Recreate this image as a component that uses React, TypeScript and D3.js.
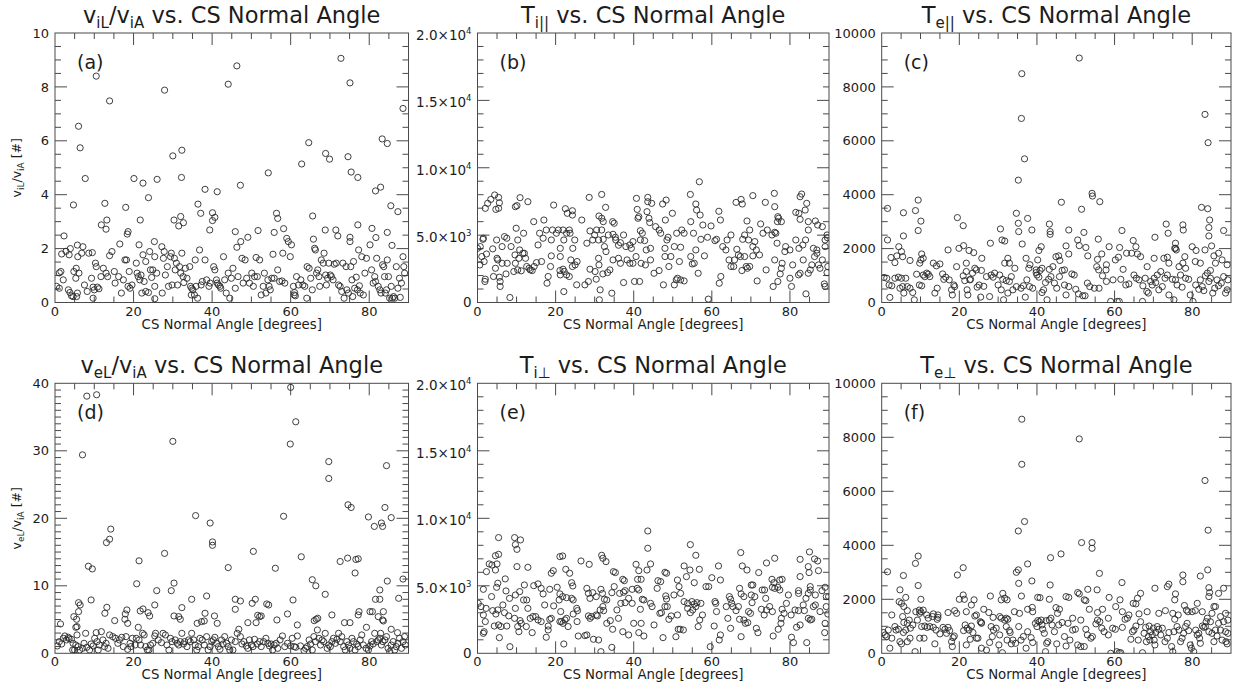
import React from 'react';
import * as d3 from 'd3';

type Pt = [number, number];

// x axis (CS normal angle, degrees)
const angleDomain: [number, number] = [0, 90];
const angleMajorTicks = [0, 20, 40, 60, 80];
const angleMinorStep = 5;

// (a) v_iL / v_iA
const viLRatio: Pt[] = [
[10.5,8.4],[13.9,7.48],[27.9,7.88],[44.1,8.1],[46.3,8.78],[72.8,9.06],[75.1,8.15],[88.6,7.2],[6.0,6.54],[6.4,5.74],[7.7,4.6],[4.7,3.62],[2.3,2.47],[30.0,5.44],[32.3,5.65],[32.2,4.64],[20.1,4.6],[22.4,4.43],[26.0,4.57],[23.8,3.89],[12.7,3.68],[18.0,3.53],[11.8,2.88],[13.2,3.06],[13.0,2.72],[18.6,2.63],[18.4,2.54],[21.7,3.06],[30.3,3.06],[32.0,3.19],[32.7,2.96],[31.5,2.84],[38.2,4.2],[41.3,4.11],[36.4,3.65],[37.1,3.31],[40.1,3.33],[40.7,3.16],[40.1,3.04],[39.4,2.69],[47.2,4.35],[54.3,4.81],[56.4,3.31],[56.7,3.12],[45.9,2.63],[51.7,2.67],[55.8,2.6],[58.2,2.74],[62.8,5.14],[64.6,5.93],[65.6,3.21],[68.9,5.53],[69.9,5.32],[68.8,2.69],[71.5,2.69],[72.0,2.47],[74.6,5.41],[75.4,4.84],[77.1,4.64],[77.1,2.88],[75.1,2.42],[80.7,2.75],[81.6,4.14],[82.9,4.28],[83.3,6.07],[84.6,5.9],[85.5,3.59],[87.3,3.37],[84.6,2.6],[81.7,2.41],[85.8,2.12],
[0.4,0.6],[1.1,1.1],[1.5,1.15],[1.7,1.8],[1.1,0.53],[2.1,0.84],[2.8,1.9],[3.6,1.77],[3.9,2.0],[3.4,0.47],[3.8,0.37],[4.2,0.25],[4.6,0.22],[4.8,1.15],[5.3,0.9],[5.4,1.27],[5.7,2.13],[5.8,1.7],[5.5,0.22],[5.7,0.35],[6.1,1.09],[6.8,1.83],[7.1,2.07],[7.5,0.65],[8.2,0.41],[8.6,1.83],[9.3,0.9],[9.5,1.85],[9.7,0.16],[10.0,0.47],[9.7,0.57],
[10.3,1.46],[10.5,1.33],[10.8,0.57],[11.2,0.51],[11.7,0.96],[12.3,1.27],[13.0,1.09],[13.4,0.96],[13.9,1.74],[14.5,1.89],[15.1,1.15],[15.3,0.72],[16.2,0.96],[16.5,2.17],[16.9,0.35],[17.4,0.84],[17.8,1.58],[18.2,1.58],[18.6,0.6],[18.9,1.15],[19.1,0.53],[19.6,0.65],
[20.7,1.46],[20.9,1.09],[21.2,0.96],[21.4,2.14],[21.6,0.84],[21.9,1.02],[22.1,0.35],[22.4,1.77],[22.7,0.78],[23.1,1.52],[23.1,0.41],[23.8,0.37],[24.1,1.89],[24.3,1.21],[24.6,0.93],[24.9,1.21],[25.3,2.26],[25.4,1.7],[25.4,0.6],[25.4,0.14],[25.9,1.09],[27.2,2.07],[27.3,0.35],[27.6,1.64],[27.8,1.89],[28.1,1.02],[28.6,1.33],[28.9,0.6],[29.4,1.7],[29.6,1.83],[29.8,0.65],
[30.4,1.64],[30.6,1.21],[30.9,1.46],[31.2,0.65],[31.7,1.33],[32.0,1.09],[32.3,1.83],[32.6,0.96],[32.8,0.74],[33.2,1.27],[33.6,0.9],[34.3,1.33],[34.5,0.6],[34.7,0.28],[34.8,0.53],[35.1,0.47],[35.5,0.28],[35.7,1.58],[35.9,0.6],[36.3,0.16],[36.8,1.95],[37.2,0.65],[37.5,0.78],[38.2,1.58],[38.6,0.84],[39.2,0.6],[39.5,0.72],
[40.4,1.33],[40.7,1.21],[41.1,0.84],[41.3,0.72],[41.6,0.65],[42.0,0.6],[42.2,0.53],[42.9,1.7],[43.2,0.84],[43.6,0.35],[44.1,1.09],[44.5,0.16],[44.9,0.9],[45.3,1.27],[45.9,0.53],[46.3,2.05],[46.6,0.96],[47.3,2.26],[47.6,1.64],[47.9,0.72],[48.4,1.58],[48.8,0.9],[49.1,2.42],[49.5,0.72],
[50.1,1.09],[50.5,0.6],[50.8,0.96],[51.2,1.67],[51.5,0.96],[52.1,1.58],[52.5,0.28],[53.0,0.6],[53.3,1.09],[53.7,0.35],[54.2,0.84],[54.5,0.6],[54.8,0.47],[55.2,0.9],[55.5,1.79],[55.8,0.9],[56.7,1.21],[57.2,0.78],[57.8,0.8],[58.0,1.83],[58.5,0.72],[59.0,2.38],[59.4,2.26],
[59.9,1.7],[60.2,2.14],[60.7,0.6],[60.9,0.28],[61.0,0.37],[61.2,0.25],[61.5,0.96],[62.0,0.65],[62.6,0.84],[63.1,0.65],[63.6,0.6],[64.1,0.16],[64.2,1.33],[64.7,1.27],[65.1,0.9],[65.5,0.47],[65.8,2.35],[66.1,2.01],[66.3,1.95],[66.6,1.09],[66.9,1.21],[67.2,0.96],[67.4,0.6],[67.8,1.58],[68.3,1.46],[68.5,1.83],[68.9,1.02],[69.1,0.65],[69.4,0.9],[69.7,1.46],
[70.1,1.02],[70.4,0.96],[70.8,0.84],[71.1,1.42],[71.6,1.46],[72.2,0.65],[72.6,0.6],[73.0,0.41],[73.3,1.46],[73.6,0.16],[74.1,1.33],[74.3,0.47],[74.7,0.35],[75.1,2.26],[75.3,1.33],[75.6,0.84],[75.8,0.22],[76.0,1.52],[76.3,0.53],[76.7,0.94],[77.0,0.47],[77.3,1.95],[77.5,0.62],[77.7,0.35],[78.1,1.7],[78.5,0.28],[78.9,1.09],[79.3,1.64],
[80.2,2.14],[80.6,1.21],[81.0,0.72],[81.4,0.96],[81.6,0.78],[81.9,1.64],[82.3,0.6],[82.7,0.47],[83.0,0.35],[83.4,1.4],[83.7,1.33],[83.9,0.96],[84.1,0.35],[84.4,0.47],[84.6,1.58],[84.9,0.96],[85.2,0.16],[85.6,0.6],[85.9,0.16],[86.2,0.22],[86.5,0.16],[86.9,1.33],[87.3,0.53],[87.7,0.9],[87.9,0.19],[88.2,0.72],[88.6,1.7],[88.8,1.33],[89.0,1.09]
];

// (b) T_i parallel
const tiPar: Pt[] = [
[56.8,8960],[76.0,8100],[83.0,8050],[82.6,7850],[54.5,8020],[70.5,7930],[31.8,8020],[28.6,7800],[43.6,7800],[40.7,7730],[4.4,7980],[5.4,7800],[3.4,7650],[10.9,7780],[5.6,7400],[2.6,7360],[2.0,6990],[5.4,6990],[4.7,6910],[9.7,7110],[10.1,7190],[12.9,7480],[19.5,7230],[22.5,6960],[23.0,6620],[24.3,6810],[24.3,6490],[32.8,7060],[31.1,6420],[31.8,6250],[32.2,6000],[34.6,6000],[35.0,5880],[40.9,6910],[41.1,6250],[41.3,6370],[43.6,7480],[43.4,6740],[43.9,6250],[44.1,5930],[44.6,7360],[47.4,7310],[48.3,7600],[48.1,6120],[49.9,6620],[55.9,7310],[56.1,6860],[57.0,6490],[57.7,5750],[59.8,5680],[61.8,6770],[62.2,6120],[66.2,7430],[67.5,7650],[67.8,7310],[69.0,6050],[73.7,7430],[76.1,7110],[76.9,6370],[77.1,6250],[76.8,6000],[77.8,6000],[76.1,5210],[81.5,6690],[82.3,6620],[82.6,6170],[83.9,6860],[84.3,7360],[84.7,6000],[86.5,6050],[87.1,5750],[88.3,5630],[89.5,5010],
[1.4,4690],[1.5,4770],[0,4020],[0.7,4150],[1.1,3410],[1.7,3040],[2.3,3600],[3.9,3980],[4.9,4640],[5.2,3160],[6.9,4890],[7.5,4770],[6.3,4150],[8.6,4150],[9.6,3530],[9.9,5510],[10.3,4640],[10.8,3900],[11.8,5140],[12.0,3650],[14.4,6000],[15.5,4270],[15.9,5140],[16.8,4770],[17.0,6120],[17.6,5380],[18.9,4640],[19.2,5380],[20.2,5140],[20.7,5380],[21.2,4020],[21.2,3410],[21.9,5380],[22.1,4640],[22.8,5140],[23.5,5380],[23.7,5140],[24.4,4020],[24.9,4640],[26.7,6120],[28.0,4400],[28.8,5310],[29.5,4640],[30.0,5010],[30.5,5380],[31.0,4640],[31.8,5380],[32.2,4690],[32.5,4150],[32.9,3780],[33.5,5010],[34.7,5060],[35.3,4840],[35.4,4640],[36.1,4250],[36.6,4440],[37.4,5010],[38.0,4150],[39.0,4270],[39.4,4020],[39.8,4520],[41.7,4640],[42.2,5140],[41.7,5330],[42.8,4590],[43.2,3900],[44.3,4020],[45.6,5630],[46.5,5380],[46.9,5140],[48.0,4020],[48.5,4640],[48.8,4840],[50.4,4150],[51.0,5140],[52.0,4100],[52.3,5380],[52.9,5140],[54.6,6000],[55.3,5140],[55.9,3900],[57.2,4690],[58.9,4840],[60.8,4590],[61.2,4690],[62.8,4150],[63.9,4640],[64.9,5010],[66.4,3950],[67.9,4690],[68.4,5010],[69.4,4640],[69.7,5380],[70.5,4150],[71.0,4520],[71.4,3900],[72.5,5830],[73.1,5140],[74.2,5380],[75.4,5010],[76.4,5140],[76.7,4400],[78.9,4150],[80.0,3900],[81.5,4640],[82.3,4020],[83.3,4270],[84.0,4640],[84.7,5380],[86.0,4020],[86.9,3900],[89.0,4150],[89.6,4810],[89.0,4640],
[0.6,2790],[1.9,1560],[2.0,1730],[4.1,1930],[4.6,2540],[5.0,3280],[5.6,1880],[5.8,1190],[5.8,1560],[6.3,2910],[7.3,2120],[7.6,2910],[8.3,370],[9.3,2300],[9.7,2910],[10.3,2420],[10.6,3280],[11.2,2350],[11.6,3650],[12.3,3280],[12.6,2670],[13.2,2540],[13.5,2420],[14.0,2370],[14.5,2670],[15.1,2960],[16.4,3040],[17.8,1430],[18.1,1930],[18.7,2670],[18.9,3460],[21.1,2370],[21.2,2050],[21.9,2470],[22.2,2300],[22.1,810],[22.8,2050],[23.5,1930],[23.9,3160],[24.3,2670],[25.0,2790],[25.4,1310],[25.5,3040],[27.5,1310],[28.4,1560],[28.8,2470],[30.1,2300],[30.4,1730],[31.0,3280],[31.1,2790],[31.2,200],[31.4,940],[32.1,2120],[33.3,2220],[33.9,2420],[34.4,690],[34.7,3160],[36.1,3280],[36.6,2910],[37.4,1480],[38.3,3160],[39.0,2910],[39.8,2910],[40.2,1560],[40.6,3410],[41.5,1560],[41.9,2910],[43.0,2790],[44.3,3160],[45.2,2170],[46.5,2370],[47.6,1310],[48.0,3410],[49.0,2670],[49.5,3410],[50.4,1310],[50.9,1680],[51.2,1800],[51.7,3040],[52.0,1680],[52.9,1600],[54.6,3410],[55.0,2860],[55.5,2910],[56.5,2170],[58.1,3460],[59.1,250],[61.9,1430],[62.3,1930],[63.6,3900],[64.4,3160],[64.9,2670],[65.6,2670],[65.8,3160],[66.8,3530],[67.3,3410],[67.7,2370],[68.4,3410],[68.8,2670],[69.1,2540],[69.7,2670],[70.5,3460],[71.6,1600],[72.2,3530],[73.9,2420],[75.7,1190],[76.1,3160],[76.9,1560],[77.5,2120],[77.8,2540],[78.0,2910],[78.7,3780],[80.0,1800],[80.4,1190],[80.7,2790],[82.2,2050],[82.6,2170],[83.4,3160],[84.1,640],[84.7,2170],[85.2,2420],[85.6,2790],[86.3,3410],[86.9,3650],[87.3,2790],[87.7,2540],[88.3,3160],[88.8,1380],[89.0,1190],[89.5,2220],[89.7,2670]
];

// (c) T_e parallel
const tePar: Pt[] = [
[50.9,9070],[36.1,8490],[36.0,6830],[36.8,5330],[35.2,4540],[83.3,6980],[84.1,5930],[82.4,3530],[84.0,3480],[84.5,3060],[84.3,2780],[84.3,2470],[54.2,4050],[54.3,3950],[56.2,3740],[46.3,3720],[51.5,3460],[1.5,3490],[5.6,3330],[8.7,3410],[9.4,3800],[9.4,2670],[10.1,3020],[19.5,3150],[21.0,2850],[34.7,3310],[35.2,2940],[35.3,2630],[37.6,3120],[38.7,2690],[36.2,2170],[30.6,2730],[31.0,2320],[31.7,2280],[43.2,2910],[43.4,2630],[43.4,2530],[48.2,2690],[50.5,2320],[52.1,2600],[50.9,2110],[52.6,2040],[55.8,2350],[53.1,1730],[56.7,1800],[58.6,2070],[61.9,2670],[61.3,2040],[64.8,2300],[65.5,2070],[65.9,1800],[70.4,2420],[73.3,2910],[73.8,2570],[72.7,1640],[75.7,2200],[75.5,2010],[75.9,1950],[77.6,2880],[77.7,2690],[80.0,2070],[81.0,1930],[83.3,1950],[85.0,2100],[86.8,1830],[88.1,2670],[85.6,1730],[28.0,2200],[25.8,1640],[23.7,1850],[22.5,1930],[21.1,2110],[19.9,2010],[1.5,2320],[5.6,2470],[4.4,2070],[5.1,1890],[5.4,1700],[2.4,1670],[3.4,1480],[3.9,1730],[7.3,1560],[10.3,1800],[10.1,1580],[10.7,1640],[17.1,1950],[19.3,1330],[21.8,1460],[15.0,1430],[13.3,1460],[14.1,1360],[9.8,1460],[32.9,1460],[31.7,1460],[32.5,1640],[41.1,2070],[40.5,1930],[40.2,1580],[37.2,1640],[44.9,1700],[45.6,1730],[47.5,2100],[48.2,1800],[44.1,1330],[45.9,1560],[47.1,1210],[43.2,1230],[41.3,1270],[39.8,1210],[37.9,1270],[38.2,1400],[34.3,1270],[66.7,1700],[68.4,1330],[70.2,1640],[73.6,1680],[74.0,1460],[75.7,2010],[76.6,1330],[78.1,1700],[77.6,1460],[78.3,1270],[80.8,1520],[82.1,1460],[84.7,1190],[86.0,1460],[87.7,1580],[89.0,1400],[61.0,1680],[60.2,1580],[57.9,1400],[55.6,1600],[55.4,1330],[55.9,1210],[63.1,1830],[64.4,1830],[57.8,1210],
[0.6,930],[1.3,900],[1.9,650],[2.1,190],[2.6,620],[3.4,900],[4.3,940],[4.7,530],[5.1,900],[5.4,590],[5.7,350],[6.2,900],[6.6,590],[7.3,530],[8.0,370],[8.4,100],[9.0,1050],[9.7,650],[10.3,620],[10.7,1020],[11.1,960],[11.6,1090],[12.0,1050],[12.4,960],[13.7,350],[14.3,530],[15.7,1060],[16.0,860],[16.5,940],[17.4,840],[18.0,470],[18.2,280],[18.6,650],[18.8,590],[21.0,990],[21.4,810],[21.8,1150],[22.0,470],[22.2,280],[22.7,840],[22.9,860],[23.4,1090],[24.0,1270],[24.4,1210],[24.6,570],[25.1,650],[25.5,200],[25.7,1190],[26.3,600],[27.0,960],[27.8,220],[28.2,1020],[28.7,940],[29.1,1090],[30.0,650],[30.4,1020],[30.8,470],[31.2,860],[31.4,100],[32.1,810],[32.5,350],[32.9,780],[33.4,960],[33.8,470],[34.7,590],[35.9,530],[36.5,620],[37.0,200],[37.4,840],[38.1,590],[38.9,530],[39.8,1110],[40.0,1020],[40.5,940],[40.8,1190],[41.3,370],[41.7,470],[42.2,740],[42.6,100],[43.0,860],[43.6,960],[44.5,720],[45.1,530],[45.8,960],[46.5,1190],[47.1,650],[47.5,280],[48.2,590],[49.0,1060],[49.6,1020],[50.0,490],[50.7,320],[51.8,250],[52.4,250],[53.0,720],[53.6,590],[54.8,530],[56.0,530],[56.9,990],[57.9,780],[59.0,40],[59.6,840],[60.7,40],[61.2,40],[61.6,860],[62.2,1230],[62.9,650],[63.7,690],[65.0,1020],[65.6,900],[66.3,840],[67.2,40],[67.3,620],[67.9,900],[68.3,410],[68.7,350],[69.3,780],[69.7,650],[70.2,900],[70.6,740],[71.0,1020],[71.4,470],[71.9,1150],[72.3,590],[73.0,900],[73.6,1020],[74.0,280],[74.9,860],[75.3,100],[75.7,840],[76.1,650],[77.0,1020],[77.4,570],[78.3,900],[79.1,860],[79.5,280],[80.2,40],[80.9,650],[81.7,490],[82.1,840],[82.6,590],[83.0,440],[83.4,990],[83.9,1090],[84.3,780],[84.7,900],[85.3,350],[85.8,530],[86.4,840],[86.8,620],[87.5,720],[88.1,960],[88.6,350],[89.0,470],[89.2,840]
];

// (d) v_eL / v_iA
const veLRatio: Pt[] = [
[8.1,38.1],[10.6,38.3],[60.0,39.4],[61.3,34.3],[59.9,31.0],[30.0,31.4],[7.0,29.4],[69.7,28.4],[69.7,25.9],[84.4,27.8],[74.6,22.0],[75.4,21.6],[84.0,21.6],[85.6,20.1],[79.8,20.2],[81.3,18.8],[83.1,19.3],[83.4,18.8],[58.2,20.3],[35.8,20.4],[39.5,19.3],[40.1,16.5],[40.1,16.0],[14.2,18.4],[13.9,16.9],[13.1,16.4],[50.5,15.1],[27.9,14.8],[72.6,13.6],[74.5,14.1],[76.6,13.9],[77.2,14.0],[76.4,11.9],[62.7,14.3],[56.1,12.6],[44.1,12.7],[21.4,13.7],[8.5,12.9],[9.5,12.5],[20.8,10.3],[30.3,10.4],[65.5,10.9],[66.4,10.0],[68.8,8.74],[84.6,10.7],[88.6,11.0],[25.9,9.28],[29.6,9.28],[9.2,7.9],[34.8,8.0],[38.6,8.49],[45.9,8.0],[47.2,7.75],[51.0,8.0],[50.2,7.41],[53.9,7.31],[54.4,7.16],[60.6,7.9],[81.6,8.0],[82.7,8.0],[82.7,9.38],[87.5,8.15],[77.4,6.17],[77.2,5.68],[80.2,6.17],[80.8,6.17],[83.6,6.17],[6.0,7.5],[6.4,7.16],[6.0,6.17],[4.8,5.43],[5.5,5.04],[5.6,3.95],[5.3,3.85],[1.4,4.35],[13.2,6.81],[12.7,5.93],[18.3,6.42],[17.9,5.83],[17.8,5.04],[18.5,4.44],[22.4,6.57],[21.7,6.27],[23.7,6.02],[24.1,5.53],[25.4,7.16],[15.2,4.84],[30.3,5.53],[31.5,5.43],[32.3,6.77],[31.9,5.04],[36.2,4.44],[37.3,4.69],[38.0,4.79],[38.2,5.93],[40.6,5.53],[41.3,4.44],[45.9,6.52],[49.1,4.54],[51.2,4.54],[51.6,5.63],[52.1,5.43],[52.5,5.53],[56.5,4.94],[59.2,5.83],[61.7,4.2],[66.0,4.84],[66.5,5.04],[66.9,5.19],[70.5,5.68],[73.7,4.54],[75.1,4.54],[82.3,5.43],[83.4,4.94],[83.6,4.79],[79.3,3.85],[82.9,2.96],[85.6,3.56],[87.2,3.06],
[0.6,1.09],[1.1,1.73],[1.7,1.38],[2.1,2.22],[2.5,2.57],[2.9,1.98],[3.4,2.37],[3.6,2.17],[4.2,2.07],[4.5,0.49],[4.6,1.48],[5.0,0.49],[5.3,1.23],[5.6,2.72],[5.9,0.99],[6.3,0.49],[7.0,0.74],[7.4,1.48],[7.8,2.96],[8.1,0.89],[8.8,0.49],[9.2,1.38],[9.7,1.09],[10.1,2.22],[10.5,3.06],[10.7,1.73],[11.0,0.49],[11.3,1.23],[11.8,3.21],[12.2,1.98],[12.6,0.99],[13.0,1.48],[13.5,0.74],[13.9,2.72],[14.7,2.47],[15.4,2.22],[16.0,1.48],[16.4,1.98],[17.0,2.37],[17.4,0.99],[18.1,2.47],[18.5,0.59],[19.1,1.48],[19.3,0.99],[19.7,2.22],[20.4,1.23],[20.7,2.22],[21.2,3.85],[21.4,1.98],[21.8,1.23],[22.3,2.96],[22.7,2.72],[23.1,0.99],[23.5,0.49],[23.9,0.49],[24.3,1.23],[24.9,1.48],[25.4,2.57],[25.6,2.96],[26.3,1.98],[27.1,1.58],[27.5,2.96],[28.1,2.72],[28.5,1.23],[29.0,0.49],[29.4,2.22],[29.8,1.73],[30.6,1.98],[31.1,1.48],[31.5,1.23],[31.9,1.73],[32.3,2.96],[32.7,1.38],[33.0,1.73],[33.6,0.99],[34.0,1.98],[34.4,1.73],[34.8,2.96],[35.3,1.98],[35.7,1.23],[36.1,0.49],[36.5,0.99],[36.9,2.22],[37.5,1.98],[38.0,1.23],[38.6,2.47],[39.0,0.49],[39.5,0.99],[39.9,1.73],[40.3,1.98],[40.7,2.37],[41.1,1.48],[41.6,0.99],[42.0,0.59],[42.4,1.98],[42.8,1.38],[43.2,2.47],[43.7,1.48],[44.1,0.99],[44.5,0.49],[44.9,1.98],[45.3,0.49],[45.9,1.73],[46.4,2.96],[46.8,3.56],[47.2,2.47],[47.6,1.38],[48.1,1.73],[48.7,1.09],[49.1,0.74],[49.5,1.98],[50.0,1.23],[50.4,0.99],[50.8,2.07],[51.5,1.38],[52.1,1.73],[52.5,0.99],[53.1,1.73],[53.7,2.22],[54.2,1.48],[54.6,1.09],[55.0,1.38],[55.4,0.49],[55.8,1.23],[56.3,1.48],[56.7,0.74],[57.3,1.98],[57.9,2.57],[58.5,0.99],[59.2,1.48],[60.0,1.09],[60.4,2.22],[60.9,0.99],[61.3,0.89],[61.7,2.57],[62.5,1.09],[63.4,0.4],[63.8,0.74],[64.2,0.99],[64.7,1.98],[65.1,1.38],[65.5,0.49],[65.9,2.47],[66.3,1.73],[66.8,3.46],[67.2,2.22],[67.6,1.23],[68.0,1.98],[68.4,1.73],[68.8,2.96],[69.3,0.74],[69.7,1.23],[70.1,0.99],[70.5,1.73],[70.9,2.22],[71.4,1.48],[71.8,2.07],[72.2,2.96],[72.6,1.73],[73.0,2.47],[73.5,0.99],[73.9,0.49],[74.3,1.73],[74.7,1.23],[75.1,0.74],[75.6,2.22],[76.0,1.73],[76.4,0.49],[76.8,1.38],[77.2,0.99],[77.7,1.98],[78.1,2.72],[78.5,1.23],[79.2,0.74],[79.8,0.49],[80.2,1.09],[80.6,1.73],[81.0,1.38],[81.4,2.96],[81.9,1.73],[82.3,1.98],[82.7,2.22],[83.1,1.23],[83.5,1.73],[84.0,1.98],[84.4,2.47],[84.8,0.74],[85.2,0.25],[85.6,1.23],[86.1,1.73],[86.5,0.49],[86.9,0.99],[87.3,1.48],[87.7,2.22],[88.2,0.74],[88.6,1.73],[89.0,2.47],[89.2,1.23]
];

// (e) T_i perpendicular
const tiPerp: Pt[] = [
[43.6,9060],[43.6,7780],[5.4,8570],[9.5,8570],[9.7,8050],[10.1,7700],[11.0,8400],[54.5,8050],[55.9,7260],[5.4,7330],[4.6,7230],[31.8,7260],[32.1,7040],[32.9,6790],[21.8,7210],[21.1,7160],[67.4,7460],[76.1,7040],[85.0,7510],[82.6,6960],[86.3,6990],[87.1,6840],[74.0,6690],[26.5,6840],[28.6,6590],[3.0,6620],[3.7,6540],[5.0,6620],[10.1,6420],[12.9,6370],[22.6,6220],[23.6,5930],[40.6,6590],[41.3,6120],[44.3,6620],[43.4,6170],[52.9,6470],[54.4,6170],[56.8,6220],[61.7,6470],[67.8,6470],[69.0,6170],[72.0,5980],[87.3,6120],[84.7,6420],[2.3,6050],[4.6,6170],[19.4,6120],[18.9,5930],[34.8,6050],[35.3,5980],[37.2,5480],[37.6,5380],[48.0,6000],[48.4,5930],[41.0,5480],[41.9,5480],[46.2,5380],[46.9,5310],[51.2,5430],[51.6,4940],[53.5,5680],[55.5,5230],[59.2,4940],[60.0,5600],[62.2,5430],[75.4,5480],[75.9,5230],[77.4,5430],[78.0,5480],[82.6,5680],[84.9,5980],[85.2,4940],[7.1,5510],[5.2,5190],[4.9,4890],[1.5,4740],[3.6,4200],[7.3,4620],[8.2,4070],[9.7,4320],[10.8,4570],[12.0,5060],[12.6,3950],[14.4,5010],[15.5,5140],[16.3,4810],[16.8,4400],[18.5,4740],[20.4,4890],[21.1,4400],[21.8,4200],[22.8,4120],[24.1,5230],[24.4,4990],[24.1,4070],[24.5,3950],[28.0,4810],[28.4,4440],[28.8,4070],[29.5,4490],[30.4,4200],[31.6,4740],[32.0,4440],[32.5,4000],[33.1,3950],[34.4,4490],[35.0,4940],[36.4,4440],[37.4,4520],[37.8,4640],[38.7,4070],[39.6,4740],[40.9,4810],[41.3,4690],[42.2,4000],[42.6,3950],[46.0,4810],[48.2,4250],[48.4,4020],[50.3,4320],[52.0,4440],[52.9,3830],[53.8,3700],[54.9,3830],[55.5,3650],[56.2,3750],[57.2,3700],[58.5,4940],[60.8,3830],[64.5,4200],[64.8,4000],[65.1,3700],[67.1,4810],[67.5,4400],[68.2,4200],[70.1,5060],[70.5,5060],[70.1,4320],[71.0,4200],[72.9,4690],[73.5,4690],[73.8,4070],[75.5,4890],[76.1,4810],[76.9,4890],[77.4,4690],[79.6,4320],[82.2,4440],[82.2,4640],[84.1,4070],[84.7,4440],[85.2,4690],[86.5,4320],[88.2,4640],[89.0,4890],[89.3,4200],[89.9,4200],
[0.2,3700],[0.9,3460],[1.5,2840],[1.5,1480],[1.7,1600],[2.2,3330],[2.0,2350],[3.9,3160],[4.3,2020],[4.7,2910],[5.2,3210],[5.4,2100],[5.6,1160],[6.0,1980],[6.5,3580],[6.9,3010],[7.5,2020],[8.0,2770],[8.3,490],[9.5,2590],[9.7,3330],[10.3,1980],[10.6,1600],[10.9,2420],[11.2,2220],[11.8,3950],[12.5,1980],[12.9,3330],[13.5,2590],[14.0,1530],[14.2,2720],[14.9,2720],[15.5,2470],[16.3,2350],[17.2,3580],[17.6,1190],[18.1,1730],[18.1,2020],[18.5,2520],[18.9,2590],[19.5,3510],[20.9,3950],[21.1,2350],[21.3,3090],[21.5,2350],[21.9,2220],[22.1,690],[22.4,2470],[22.8,2590],[23.2,1980],[24.5,2910],[25.4,3330],[25.6,3160],[25.5,2350],[25.8,1280],[27.5,1310],[28.0,1360],[28.4,2770],[28.8,2590],[29.2,2720],[29.7,1040],[30.4,2840],[30.7,2770],[31.0,990],[31.4,3210],[31.6,120],[32.1,3460],[32.3,3160],[33.1,2220],[34.0,2420],[34.4,440],[34.6,1780],[35.7,3210],[36.1,2590],[36.7,3700],[37.2,1600],[37.8,3750],[38.7,1360],[39.6,3700],[40.0,2220],[41.3,1530],[41.7,3260],[41.9,2220],[42.6,1280],[44.3,3700],[44.7,3460],[45.2,2100],[46.7,2960],[47.1,3010],[47.5,1160],[48.0,3460],[48.6,3460],[49.0,2520],[49.6,2770],[50.8,1230],[51.2,2840],[51.4,1780],[51.9,1780],[52.7,1730],[53.8,3330],[54.5,3010],[55.1,3210],[55.9,3460],[56.5,1980],[56.9,2470],[57.6,2840],[59.6,490],[60.6,2020],[61.0,3700],[61.2,3090],[61.9,990],[62.2,1360],[63.7,3460],[64.1,2590],[64.8,1850],[65.4,3460],[66.2,3160],[66.8,3460],[67.1,2520],[67.5,1230],[68.2,2470],[68.6,2220],[69.2,2270],[69.4,3090],[69.9,2960],[70.3,3750],[71.4,1850],[71.8,1530],[72.7,3260],[73.4,2840],[74.0,3210],[74.8,3460],[75.5,3090],[75.7,1280],[77.0,1780],[77.7,2220],[77.8,2590],[78.0,3260],[78.5,2960],[79.1,3700],[80.3,2840],[80.4,1190],[80.9,790],[81.3,3210],[81.7,1930],[82.2,3160],[82.6,2100],[83.4,3580],[83.7,3160],[84.3,790],[84.7,2590],[85.2,2470],[85.6,2520],[86.0,3460],[86.5,3580],[87.7,3090],[88.9,1530],[89.0,2220],[89.3,3460],[89.7,2910]
];

// (f) T_e perpendicular
const tePerp: Pt[] = [
[36.1,8670],[50.9,7940],[36.1,7000],[36.8,4880],[35.2,4530],[83.3,6400],[84.1,4560],[84.0,3090],[84.3,2430],[84.5,2250],[84.3,2100],[82.1,2860],[88.1,2410],[86.8,2220],[51.5,4100],[54.2,4100],[54.2,3890],[46.2,3680],[43.5,3540],[37.6,3310],[35.2,3090],[34.7,3000],[35.3,2590],[36.0,2120],[38.7,2680],[56.1,2960],[1.5,3020],[8.7,3330],[9.4,3600],[9.4,2510],[5.6,2880],[19.5,2900],[21.0,3170],[21.0,2160],[43.4,2530],[61.9,2620],[70.4,2410],[73.6,2470],[74.0,2560],[77.6,2900],[77.6,2650],[75.7,2200],[75.5,1980],[50.5,2250],[50.9,2200],[53.1,2370],[55.5,2350],[52.2,1980],[52.6,1950],[58.6,2070],[61.4,1980],[65.5,1830],[64.8,1850],[66.7,2220],[65.9,2040],[81.3,1850],[78.0,1770],[78.5,1600],[85.6,1730],[86.0,1730],[4.7,2350],[5.1,1850],[4.5,1910],[5.7,1730],[10.1,2000],[23.8,1980],[21.3,2000],[20.0,2000],[40.2,2070],[40.8,2060],[43.2,2000],[47.5,2100],[48.2,2070],[45.8,1630],[44.9,1690],[37.6,1630],[38.8,1700],[31.2,2220],[31.7,2040],[30.8,1980],[32.3,1980],[28.0,2120],[26.3,1630],[27.6,1510],[9.7,1600],[10.1,1540],[10.7,1600],[17.1,1510],[18.8,1580],[19.3,1480],
[6.2,2070],[6.6,1580],[7.1,1230],[8.8,1540],[9.8,1480],[11.6,1420],[12.0,1300],[13.3,1460],[14.5,1420],[21.8,1540],[23.1,1790],[24.4,1420],[25.7,1140],[28.7,1330],[30.4,1360],[32.1,1300],[34.2,1540],[35.5,1480],[38.9,1540],[42.4,1210],[43.6,1300],[45.3,1480],[49.2,1300],[51.3,1230],[53.5,1630],[55.6,1510],[56.9,1630],[58.4,1300],[60.3,1730],[62.0,1540],[63.7,1420],[66.3,1460],[68.4,1540],[71.4,1480],[73.1,1580],[75.0,1480],[76.4,1420],[78.9,1540],[80.0,1540],[80.8,1580],[82.6,1540],[85.1,1480],[87.3,1360],[88.6,1480],[89.2,1230],
[0.4,770],[0.9,680],[1.7,860],[2.1,190],[1.3,620],[2.6,560],[2.6,1420],[3.4,990],[3.7,860],[4.3,890],[4.7,430],[5.1,350],[5.4,1360],[5.6,770],[5.7,1140],[6.2,860],[6.6,1110],[6.6,430],[7.3,560],[7.4,930],[8.0,1050],[8.6,60],[9.2,1230],[9.8,560],[10.3,990],[10.9,560],[11.1,1010],[11.7,960],[12.4,990],[13.1,1360],[13.3,960],[13.7,350],[14.0,860],[14.3,1260],[14.5,1330],[15.0,720],[15.8,960],[16.3,890],[16.7,740],[17.1,960],[17.5,840],[18.0,430],[18.2,250],[18.4,580],[18.7,640],[21.1,840],[21.5,1050],[21.8,310],[22.0,930],[22.5,860],[22.8,520],[23.1,1010],[23.5,770],[24.0,1380],[24.4,560],[24.8,560],[25.4,1170],[25.7,1110],[25.7,190],[27.0,120],[27.8,400],[28.2,990],[28.5,620],[28.8,860],[29.5,930],[30.2,310],[30.4,680],[30.8,1300],[31.1,20],[31.7,1230],[32.1,990],[32.3,490],[32.5,1260],[32.9,840],[33.1,770],[33.4,350],[33.8,490],[34.5,370],[35.3,990],[35.9,490],[36.5,620],[37.2,190],[37.6,800],[38.5,580],[38.9,400],[39.6,1110],[40.0,990],[40.2,1210],[40.6,1170],[41.1,1230],[41.3,1050],[41.5,890],[41.9,740],[42.2,60],[42.5,370],[42.8,430],[43.2,1230],[43.9,1050],[44.5,800],[45.1,350],[45.6,1050],[46.5,1140],[47.1,620],[47.5,270],[48.0,1110],[48.5,490],[49.2,860],[49.9,890],[50.5,310],[51.3,250],[52.2,250],[52.6,890],[53.0,680],[53.9,560],[54.3,620],[55.2,1090],[55.6,1230],[56.2,1170],[56.7,930],[57.3,800],[58.4,680],[59.0,0],[59.5,930],[60.2,890],[60.6,60],[61.2,20],[61.6,20],[62.0,960],[62.7,1260],[63.3,1300],[64.2,520],[64.6,800],[65.0,860],[65.5,1010],[66.1,490],[66.7,1170],[67.2,20],[67.6,740],[68.0,960],[68.2,430],[68.7,620],[68.9,1010],[69.1,490],[69.3,800],[69.7,680],[70.0,930],[70.2,490],[70.4,310],[70.6,770],[71.0,990],[71.4,890],[71.9,680],[72.3,930],[73.0,430],[73.6,560],[74.0,770],[74.7,250],[75.0,60],[75.3,800],[75.5,1260],[76.1,990],[76.6,860],[77.0,430],[77.4,560],[77.8,740],[78.3,990],[78.7,1110],[79.1,840],[79.5,310],[79.8,190],[80.4,60],[80.9,860],[81.3,680],[81.7,740],[81.9,560],[82.1,370],[82.6,1010],[83.0,960],[83.4,990],[83.6,1170],[83.9,1300],[84.3,800],[84.7,1170],[85.1,740],[85.6,430],[86.0,860],[86.4,640],[86.8,1110],[87.3,860],[87.7,490],[88.1,1170],[88.6,800],[88.7,430],[89.0,350],[89.2,740]
];

type Part = [string, boolean];

interface PanelSpec {
  key: string;
  label: string;
  data: Pt[];
  col: number;
  row: number;
  yMax: number;
  yMajor: number;
  yMinor: number;
  sci: boolean;
  title: Part[];
  ylabel?: Part[];
}

const panels: PanelSpec[] = [
  { key: 'a', label: '(a)', data: viLRatio, col: 0, row: 0, yMax: 10, yMajor: 2, yMinor: 0.5, sci: false,
    title: [['v', false], ['iL', true], ['/v', false], ['iA', true], [' vs. CS Normal Angle', false]],
    ylabel: [['v', false], ['iL', true], ['/v', false], ['iA', true], [' [#]', false]] },
  { key: 'b', label: '(b)', data: tiPar, col: 1, row: 0, yMax: 20000, yMajor: 5000, yMinor: 1000, sci: true,
    title: [['T', false], ['i||', true], [' vs. CS Normal Angle', false]] },
  { key: 'c', label: '(c)', data: tePar, col: 2, row: 0, yMax: 10000, yMajor: 2000, yMinor: 500, sci: false,
    title: [['T', false], ['e||', true], [' vs. CS Normal Angle', false]] },
  { key: 'd', label: '(d)', data: veLRatio, col: 0, row: 1, yMax: 40, yMajor: 10, yMinor: 1, sci: false,
    title: [['v', false], ['eL', true], ['/v', false], ['iA', true], [' vs. CS Normal Angle', false]],
    ylabel: [['v', false], ['eL', true], ['/v', false], ['iA', true], [' [#]', false]] },
  { key: 'e', label: '(e)', data: tiPerp, col: 1, row: 1, yMax: 20000, yMajor: 5000, yMinor: 1000, sci: true,
    title: [['T', false], ['i\u22A5', true], [' vs. CS Normal Angle', false]] },
  { key: 'f', label: '(f)', data: tePerp, col: 2, row: 1, yMax: 10000, yMajor: 2000, yMinor: 500, sci: false,
    title: [['T', false], ['e\u22A5', true], [' vs. CS Normal Angle', false]] },
];

const COLS: [number, number][] = [[55, 408.5], [477.5, 829], [881.7, 1231]];
const ROWS: [number, number][] = [[33, 302.5], [383.3, 653.3]];

const FONT = '"DejaVu Sans", Verdana, sans-serif';
const AXIS = '#4a4a4a';
const INK = '#1c1c1c';

function RichText({ parts, size, subSize, shift }: { parts: Part[]; size: number; subSize: number; shift: number }) {
  let cur = 0;
  return (
    <>
      {parts.map(([t, sub], i) => {
        const target = sub ? shift : 0;
        const dy = target - cur;
        cur = target;
        return (
          <tspan key={i} dy={dy} fontSize={sub ? subSize : size}>{t}</tspan>
        );
      })}
    </>
  );
}

function isMultiple(v: number, step: number) {
  const r = v / step;
  return Math.abs(r - Math.round(r)) < 1e-6;
}

function SciLabel({ v }: { v: number }) {
  if (v === 0) return <tspan>0</tspan>;
  const e = Math.floor(Math.log10(v) + 1e-9);
  const m = (v / Math.pow(10, e)).toFixed(1);
  return (
    <>
      <tspan>{m}×10</tspan>
      <tspan dy={-6} fontSize={8.5}>{e}</tspan>
    </>
  );
}

function Panel({ p }: { p: PanelSpec }) {
  const [x0, x1] = COLS[p.col];
  const [y0, y1] = ROWS[p.row];
  const xs = d3.scaleLinear().domain(angleDomain).range([x0, x1]);
  const ys = d3.scaleLinear().domain([0, p.yMax]).range([y1, y0]);
  const xMinor = d3.range(angleDomain[0], angleDomain[1] + 1e-9, angleMinorStep)
    .filter(v => v > angleDomain[0] && v < angleDomain[1] && !angleMajorTicks.includes(v));
  const yMajorT = d3.range(0, p.yMax + 1e-9, p.yMajor);
  const yMinorT = d3.range(0, p.yMax + 1e-9, p.yMinor)
    .filter(v => v > 0 && v < p.yMax && !isMultiple(v, p.yMajor));
  const LM = 12, Lm = 6;
  const clipId = `clip-${p.key}`;
  const cx = (x0 + x1) / 2;
  const cy = (y0 + y1) / 2;
  return (
    <g>
      <defs>
        <clipPath id={clipId}>
          <rect x={x0} y={y0} width={x1 - x0} height={y1 - y0} />
        </clipPath>
      </defs>
      <text x={cx} y={y0 - 10.5} textAnchor="middle" fontSize={22.5} fill={INK} fontFamily={FONT}>
        <RichText parts={p.title} size={22.5} subSize={15} shift={5} />
      </text>
      <g stroke={AXIS} strokeWidth={1} fill="none">
        {angleMajorTicks.filter(v => v > 0).map(v => (
          <g key={'xM' + v}>
            <line x1={xs(v)} x2={xs(v)} y1={y1} y2={y1 - LM} />
            <line x1={xs(v)} x2={xs(v)} y1={y0} y2={y0 + LM} />
          </g>
        ))}
        {xMinor.map(v => (
          <g key={'xm' + v}>
            <line x1={xs(v)} x2={xs(v)} y1={y1} y2={y1 - Lm} />
            <line x1={xs(v)} x2={xs(v)} y1={y0} y2={y0 + Lm} />
          </g>
        ))}
        {yMajorT.filter(v => v > 0 && v < p.yMax).map(v => (
          <g key={'yM' + v}>
            <line x1={x0} x2={x0 + LM} y1={ys(v)} y2={ys(v)} />
            <line x1={x1} x2={x1 - LM} y1={ys(v)} y2={ys(v)} />
          </g>
        ))}
        {yMinorT.map(v => (
          <g key={'ym' + v}>
            <line x1={x0} x2={x0 + Lm} y1={ys(v)} y2={ys(v)} />
            <line x1={x1} x2={x1 - Lm} y1={ys(v)} y2={ys(v)} />
          </g>
        ))}
        <rect x={x0} y={y0} width={x1 - x0} height={y1 - y0} />
      </g>
      <g clipPath={`url(#${clipId})`} fill="none" stroke="#2a2a2a" strokeWidth={0.9}>
        {p.data.map((d, i) => (
          <circle key={i} cx={xs(d[0])} cy={ys(d[1])} r={3.1} />
        ))}
      </g>
      <text x={x0 + 22} y={y0 + 36} fontSize={19} fill={INK} fontFamily={FONT}>{p.label}</text>
      <g fontFamily={FONT} fill={INK}>
        {angleMajorTicks.map(v => (
          <text key={'xl' + v} x={xs(v)} y={y1 + 13} textAnchor="middle" fontSize={13}>{v}</text>
        ))}
        <text x={cx} y={y1 + 26} textAnchor="middle" fontSize={13.3}>CS Normal Angle [degrees]</text>
        {yMajorT.map(v => (
          <text key={'yl' + v} x={x0 - 6} y={ys(v)} dy={p.sci && v > 0 ? '0.5em' : '0.36em'} textAnchor="end" fontSize={p.sci ? 13.5 : 13}>
            {p.sci ? <SciLabel v={v} /> : String(v)}
          </text>
        ))}
        {p.ylabel && (
          <text transform={`translate(21,${cy}) rotate(-90)`} textAnchor="middle" fontSize={12.5}>
            <RichText parts={p.ylabel} size={12.5} subSize={9} shift={3} />
          </text>
        )}
      </g>
    </g>
  );
}

export default function App() {
  return (
    <svg width={1239} height={690} style={{ position: 'absolute', left: 0, top: 0, background: '#fff' }}>
      <rect x={0} y={0} width={1239} height={690} fill="#fff" />
      {panels.map(p => <Panel key={p.key} p={p} />)}
    </svg>
  );
}
